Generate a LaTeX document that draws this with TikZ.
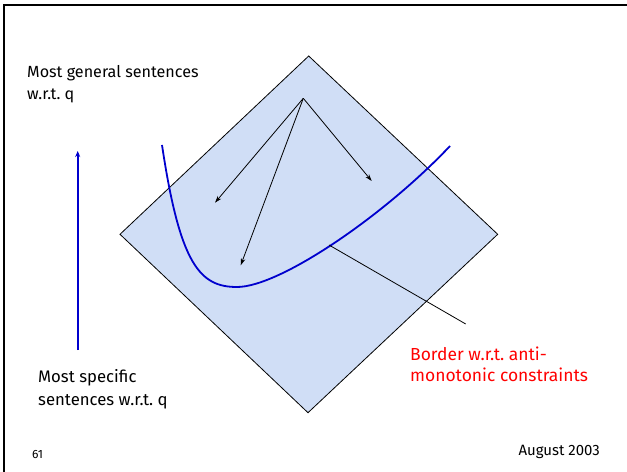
\documentclass[tikz,border=0pt]{standalone}
\usepackage{fontspec}
\setmainfont{Fira Sans}
\usetikzlibrary{arrows.meta,positioning}
\definecolor{latfill}{RGB}{208,222,246}
\definecolor{curveblue}{RGB}{0,0,205}
\definecolor{notered}{RGB}{255,0,0}
\begin{document}
\begin{tikzpicture}[x=1bp, y=-1bp,
  lbl/.style={anchor=base west, align=left, inner sep=0pt, font=\fontsize{16.2}{22.7}\selectfont},
  foot/.style={inner sep=0pt, font=\fontsize{12}{14}\selectfont},
  arr/.style={-{Stealth[length=7bp,width=4.5bp]}, line width=0.8bp},
  bord/.style={curveblue, line width=1.8bp}
]
\useasboundingbox (0,0) rectangle (627,472);
% slide frame
\draw[line width=2bp] (4,472) -- (4,5) -- (627,5);
% the lattice
\coordinate (tp) at (308.7,56);
\coordinate (lf) at (120,234.3);
\coordinate (rt) at (497.7,234.3);
\coordinate (bt) at (308,412.7);
\filldraw[fill=latfill, draw=black, line width=0.8bp] (tp) -- (rt) -- (bt) -- (lf) -- cycle;
% arrows from the top
\coordinate (ap) at (303.3,98.3);
\coordinate (a1) at (215,202.7);
\coordinate (a2) at (240.7,265.3);
\coordinate (a3) at (371.7,181);
\draw[arr] (ap) -- (a1);
\draw[arr] (ap) -- (a2);
\draw[arr] (ap) -- (a3);
% border curve
\coordinate (c0) at (162,145);
\coordinate (cm) at (237,287);
\coordinate (c1) at (450,146);
\draw[bord] (c0) .. controls (180,265) and (200,287) .. (cm)
  .. controls (280,287) and (385,215) .. (c1);
% direction arrow
\coordinate (v0) at (77.7,350);
\coordinate (v1) at (77.7,151);
\draw[curveblue, line width=1.8bp, -{Stealth[length=6bp,width=5bp]}] (v0) -- (v1);
% labels (base = last line)
\node[lbl] (gen) at (27,100) {Most general sentences\\w.r.t.\ q};
\node[lbl, font=\fontsize{16.8}{23}\selectfont] (spc) at (38,405) {Most specific\\sentences w.r.t.\ q};
\node[lbl, text=notered, font=\fontsize{17.5}{21}\selectfont] (brd) at (410,381) {Border w.r.t.\ anti-\\monotonic constraints};
\coordinate (lk) at (329,245);
\coordinate (le) at (465.7,324);
\draw[line width=0.8bp] (lk) -- (le);
\node[foot, anchor=base west] (pg) at (32,458) {61};
\node[foot, anchor=base east, font=\fontsize{15}{17}\selectfont] (dt) at (600,455) {August 2003};
\end{tikzpicture}
\end{document}
